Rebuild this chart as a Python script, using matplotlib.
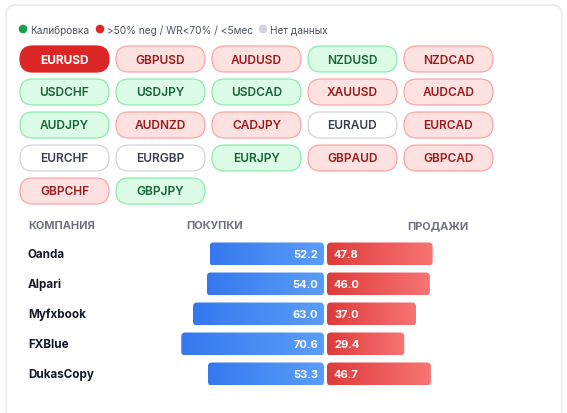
import numpy as np
import matplotlib.pyplot as plt
from matplotlib.patches import FancyBboxPatch, Circle
from matplotlib.colors import LinearSegmentedColormap

plt.rcParams['font.family'] = ['Inter', 'DejaVu Sans']

# pairs and their status: a = active, r = red, g = green, n = no data
pairs = ['EURUSD', 'GBPUSD', 'AUDUSD', 'NZDUSD', 'NZDCAD',
         'USDCHF', 'USDJPY', 'USDCAD', 'XAUUSD', 'AUDCAD',
         'AUDJPY', 'AUDNZD', 'CADJPY', 'EURAUD', 'EURCAD',
         'EURCHF', 'EURGBP', 'EURJPY', 'GBPAUD', 'GBPCAD',
         'GBPCHF', 'GBPJPY']
status = ['a', 'r', 'r', 'g', 'r',
          'g', 'g', 'g', 'r', 'r',
          'g', 'r', 'r', 'n', 'r',
          'n', 'n', 'g', 'r', 'r',
          'r', 'g']

legend_labels = ['Калибровка', '>50% neg / WR<70% / <5мес', 'Нет данных']

companies = ['Oanda', 'Alpari', 'Myfxbook', 'FXBlue', 'DukasCopy']
buy = [52.2, 54.0, 63.0, 70.6, 53.3]
sell = [47.8, 46.0, 37.0, 29.4, 46.7]

styles = {
    'a': ('#dc2626', '#dc2626', 'white', 'bold'),
    'r': ('#fee2e2', '#fca5a5', '#991b1b', 'semibold'),
    'g': ('#dcfce7', '#86efac', '#166534', 'semibold'),
    'n': ('white', '#d1d5db', '#374151', 'semibold'),
}

fig = plt.figure(figsize=(5.67, 4.14), dpi=100)
ax = fig.add_axes([0, 0, 1, 1])

# card
card = FancyBboxPatch((6, 6), 556, 440, boxstyle='round,pad=0,rounding_size=10',
                      facecolor='white', edgecolor='#e5e7eb', linewidth=1, zorder=0)
ax.add_patch(card)

# legend
leg_x = [23, 100, 263]
leg_c = ['#16a34a', '#dc2626', '#d1d5db']
for lx, lc, lt in zip(leg_x, leg_c, legend_labels):
    ax.add_patch(Circle((lx, 30), 3.6, color=lc))
    ax.text(lx + 7, 30.5, lt, fontsize=7.3, color='#4b5563', va='center', ha='left')

# pills
for i, (p, s) in enumerate(zip(pairs, status)):
    col, row = i % 5, i // 5
    x0 = 20 + col * 96
    y0 = 47 + row * 33
    fc, ec, tc, fw = styles[s]
    ax.add_patch(FancyBboxPatch((x0, y0), 89, 26,
                                boxstyle='round,pad=0,rounding_size=13',
                                facecolor=fc, edgecolor=ec, linewidth=0.9))
    ax.text(x0 + 44.5, y0 + 13.5, p, fontsize=8.6, color=tc, fontweight=fw,
            ha='center', va='center')

# table header
hdr = dict(fontsize=7.9, color='#6b7280', fontweight='bold', va='center')
ax.text(28, 226, 'КОМПАНИЯ', ha='left', **hdr)
ax.text(186, 226, 'ПОКУПКИ', ha='left', **hdr)
ax.text(468, 226, 'ПРОДАЖИ', ha='right', **hdr)

blue_cm = LinearSegmentedColormap.from_list('b', ['#3578ee', '#5b9ef8'])
red_cm = LinearSegmentedColormap.from_list('r', ['#df3b3b', '#f87474'])
grad = np.linspace(0, 1, 256).reshape(1, -1)

center = 325.5
scale = lambda v: 34 + 1.54 * v

for k, (c, b, s) in enumerate(zip(companies, buy, sell)):
    yc = 255 + k * 30
    ax.text(28, yc, c, fontsize=8.4, fontweight='bold', color='#111827',
            ha='left', va='center')
    bw, sw = scale(b), scale(s)
    for x0, w, cm in [(center - 1.5 - bw, bw, blue_cm), (center + 1.5, sw - 2, red_cm)]:
        patch = FancyBboxPatch((x0, yc - 11.5), w, 23,
                               boxstyle='round,pad=0,rounding_size=4',
                               facecolor='none', edgecolor='none')
        ax.add_patch(patch)
        im = ax.imshow(grad, cmap=cm, extent=[x0, x0 + w, yc + 11.5, yc - 11.5],
                       aspect='auto', interpolation='bilinear', zorder=2)
        im.set_clip_path(patch)
    ax.text(center - 7.5, yc + 0.5, f'{b:.1f}', fontsize=8, fontweight='bold',
            color='white', ha='right', va='center', zorder=3)
    ax.text(center + 8.5, yc + 0.5, f'{s:.1f}', fontsize=8, fontweight='bold',
            color='white', ha='left', va='center', zorder=3)

ax.set_xlim(0, 567)
ax.set_ylim(414, 0)
ax.axis('off')
fig.savefig('out.png', dpi=100, facecolor='white')
